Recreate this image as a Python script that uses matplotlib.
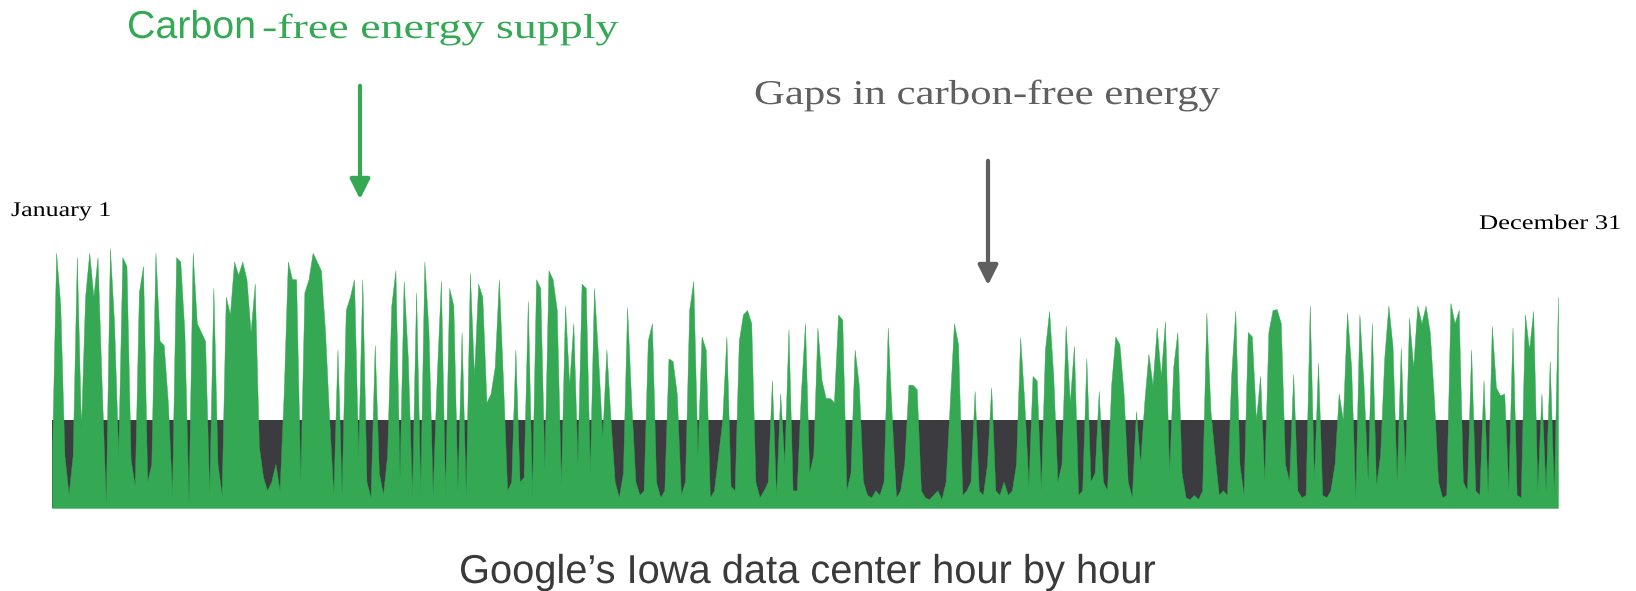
import matplotlib
matplotlib.use("Agg")
import matplotlib.pyplot as plt
from matplotlib.patheffects import AbstractPathEffect
from matplotlib.transforms import Affine2D
from matplotlib.patches import FancyArrowPatch
import numpy as np

# Carbon-free supply read as one value per day (demand = 1.0)
supply_jan_feb = [0.6, 2.9, 2.3, 0.6, 0.15, 0.6, 2.85, 0.9, 2.4, 2.9,
                  2.4, 2.85, 1.4, 0.05, 2.95, 2.1, 0.6, 2.85, 2.75, 0.55,
                  0.25, 2.45, 2.75, 0.3, 0.5, 2.9, 1.9, 1.85, 1.2, 0.15,
                  2.85, 2.8, 2.0, 0.05, 2.9, 2.1, 2.0, 1.9, 0.15, 2.5,
                  0.5, 0.15, 2.4, 2.2, 2.8, 2.65, 2.8, 2.6, 2.0, 2.55,
                  0.7, 0.35, 0.2, 0.3, 0.5, 0.2, 1.3, 2.8]
supply_mar_apr = [2.6, 2.6, 0.3, 2.45, 2.6, 2.9, 2.8, 2.7, 2.0, 1.0,
                  0.15, 1.8, 0.15, 2.25, 2.4, 2.6, 0.6, 2.6, 0.3, 0.12,
                  1.85, 0.4, 0.15, 0.6, 2.3, 2.7, 0.35, 2.58, 1.7, 0.15,
                  2.45, 0.2, 2.8, 2.0, 0.15, 1.5, 2.58, 0.15, 2.5, 2.3,
                  0.2, 2.0, 0.12, 2.67, 1.5, 2.55, 2.4, 1.2, 1.3, 1.6,
                  2.6, 1.45, 0.2, 0.3, 1.8, 0.3, 0.35, 2.35, 0.15, 2.6,
                  2.5]
supply_may_jun = [0.45, 2.7, 2.6, 2.25, 0.25, 2.3, 1.4, 2.1, 0.5, 2.55,
                  2.5, 0.4, 2.5, 1.7, 0.8, 1.8, 1.0, 0.3, 0.12, 0.4,
                  2.28, 1.2, 0.3, 0.15, 0.2, 1.9, 2.1, 0.3, 0.12, 0.2,
                  1.7, 1.67, 1.3, 0.15, 0.3, 2.25, 2.58, 0.6, 1.95, 1.8,
                  0.12, 0.2, 0.6, 1.0, 1.95, 0.25, 0.2, 1.9, 2.2, 2.25,
                  2.1, 0.3, 0.12, 0.2, 0.3, 1.45, 0.12, 1.3, 0.5, 2.03,
                  0.2]
supply_jul_aug = [0.2, 1.3, 2.1, 0.4, 0.6, 2.05, 1.45, 1.25, 1.25, 1.2,
                  2.2, 2.14, 0.2, 0.4, 1.8, 1.4, 0.3, 0.15, 0.12, 0.2,
                  0.15, 0.3, 2.05, 1.0, 0.12, 0.2, 0.5, 1.4, 1.4, 1.35,
                  0.2, 0.12, 0.1, 0.15, 0.2, 0.1, 0.3, 1.2, 2.1, 1.86,
                  0.15, 0.2, 0.3, 1.33, 0.2, 0.15, 0.5, 1.37, 0.2, 0.15,
                  0.3, 0.15, 0.2, 0.5, 1.94, 1.2, 0.25, 1.5, 1.45, 0.2]
supply_sep_oct = [1.8, 2.24, 1.5, 0.3, 0.5, 2.07, 1.2, 1.84, 0.15, 0.2,
                  1.7, 0.3, 0.4, 1.33, 0.3, 0.2, 1.4, 1.95, 1.86, 1.3,
                  0.3, 0.12, 1.1, 0.5, 1.2, 1.75, 1.4, 2.05, 1.5, 2.12,
                  0.4, 1.6, 2.0, 0.4, 0.12, 0.1, 0.15, 0.1, 0.2, 2.22,
                  1.1, 0.6, 0.15, 0.2, 0.15, 1.5, 2.24, 0.5, 0.15, 2.0,
                  1.95, 1.0, 1.5, 0.3, 2.0, 2.25, 2.26, 2.1, 0.5, 0.3]
supply_nov_dec = [1.52, 0.2, 0.12, 0.15, 2.3, 0.3, 1.65, 0.15, 0.12, 0.2,
                  0.5, 1.3, 1.0, 2.22, 1.6, 0.1, 2.2, 1.4, 0.3, 2.1,
                  0.25, 0.6, 1.7, 2.3, 1.84, 0.3, 1.82, 0.4, 2.16, 1.6,
                  2.3, 2.1, 2.3, 2.0, 1.25, 0.3, 0.12, 0.15, 2.33, 2.1,
                  2.25, 0.3, 0.2, 1.8, 0.2, 0.15, 1.45, 0.15, 2.07, 1.37,
                  1.28, 1.3, 0.2, 2.05, 0.15, 0.12, 2.2, 1.8, 2.24, 0.2,
                  1.3, 0.2, 1.67, 0.15, 2.4]

supply = np.array(supply_jan_feb + supply_mar_apr + supply_may_jun +
                  supply_jul_aug + supply_sep_oct + supply_nov_dec)
demand = 1.0
days = np.arange(len(supply))

start_label = "January 1"
end_label = "December 31"
title = "Google\u2019s Iowa data center hour by hour"
supply_label_a = "Carbon"
supply_label_b = "-free energy supply"
gap_label = "Gaps in carbon-free energy"

GREEN = "#34a853"
DARK = "#3b3b40"
GRAY = "#5f5f5f"

W, H = 1636, 591
fig = plt.figure(figsize=(W / 100, H / 100), dpi=100)
fig.patch.set_facecolor("white")


def fx(px):
    return px / W


def fy(py):
    return 1 - py / H


class HStretch(AbstractPathEffect):
    """Horizontally stretch rendered text about a fixed x (display px)."""

    def __init__(self, sx, x0):
        super().__init__()
        self.sx = sx
        self.x0 = x0

    def draw_path(self, renderer, gc, tpath, affine, rgbFace=None):
        st = (Affine2D().translate(-self.x0, 0).scale(self.sx, 1)
              .translate(self.x0, 0))
        renderer.draw_path(gc, tpath, affine + st, rgbFace)


renderer = fig.canvas.get_renderer()


def fit_text(s, left, right, baseline, size, family, color):
    t = fig.text(fx(left), fy(baseline), s, fontsize=size, family=family,
                 color=color, ha="left", va="baseline")
    bb = t.get_window_extent(renderer=renderer)
    sx = (right - left) / bb.width
    t.set_path_effects([HStretch(sx, bb.x0)])
    return t


ax = fig.add_axes([fx(52), fy(508), fx(1558) - fx(52), fy(244) - fy(508)])
ax.fill_between(days, 0, demand, color=DARK, linewidth=0)
ax.fill_between(days, 0, supply, color=GREEN, linewidth=0.3, edgecolor=GREEN)
ax.set_xlim(days[0], days[-1])
ax.set_ylim(0, 3.0)
ax.axis("off")

# Labels
fit_text(supply_label_a, 127, 256, 38, 28, "Liberation Sans", GREEN)
fit_text(supply_label_b, 262, 619, 38, 25, "Liberation Serif", GREEN)
fit_text(gap_label, 754, 1221, 104, 25, "Liberation Serif", GRAY)
fit_text(start_label, 11, 112, 216, 15, "Liberation Serif", "black")
fit_text(end_label, 1479, 1622, 229, 15, "Liberation Serif", "black")
fit_text(title, 459, 1156, 583, 29, "Liberation Sans", "#3a3a3a")

# Arrows
fig.add_artist(FancyArrowPatch(
    (fx(360), fy(83)), (fx(360), fy(202)), transform=fig.transFigure,
    arrowstyle="-|>,head_length=12,head_width=6", color=GREEN, linewidth=3,
    mutation_scale=1))
fig.add_artist(FancyArrowPatch(
    (fx(988), fy(158)), (fx(988), fy(288)), transform=fig.transFigure,
    arrowstyle="-|>,head_length=12,head_width=6", color=GRAY, linewidth=3,
    mutation_scale=1))

fig.savefig("out.png", dpi=100, facecolor="white")
